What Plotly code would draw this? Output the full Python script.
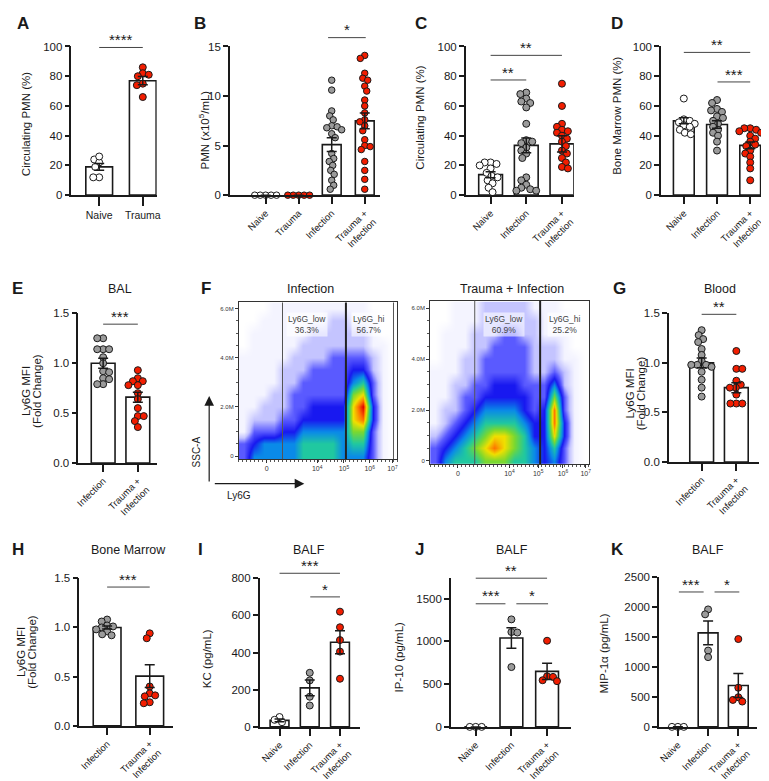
import plotly.graph_objects as go

W, H = 769, 781
def px(x): return x / W
def py(y): return 1 - y / H

WHITE, GRAY, RED = "#ffffff", "#9b9b9b", "#f21d00"
INK = "#1a1a1a"
FONT = "Liberation Sans"

# ---------------- data ----------------
A_labels = ["Naive", "Trauma"]
A_naive = [24, 22, 26, 19, 12, 12]
A_trauma = [86, 82, 81, 80, 75, 74, 66]
A_mean = [19, 77]
A_sem = [2.3, 2.8]

B_labels = ["Naive", "Trauma", "Infection", "Trauma +<br>Infection"]
B_naive = [0, 0, 0, 0, 0]
B_trauma = [0, 0, 0, 0, 0]
B_infection = [11.6, 10.6, 8.5, 8.0, 7.6, 7.0, 6.9, 6.8, 6.6, 6.2, 5.8, 4.2, 3.7, 3.4, 3.0, 2.5, 2.1, 1.5, 1.0, 0.6]
B_trauma_inf = [14.1, 13.8, 12.3, 11.8, 11.6, 11.0, 10.5, 9.6, 9.0, 8.3, 7.6, 7.4, 7.0, 6.5, 5.6, 5.0, 4.9, 4.6, 3.4, 2.5, 1.6, 0.6]
B_mean = [0, 0, 5.1, 7.5]
B_sem = [0, 0, 0.7, 0.8]

C_labels = ["Naive", "Infection", "Trauma +<br>Infection"]
C_naive = [22, 22, 21, 20, 18, 15, 13, 12, 10, 8, 5, 2]
C_infection = [69, 68, 65, 63, 62, 59, 48, 37, 36, 35, 32, 30, 28, 25, 12, 10, 7, 5, 4, 3, 3]
C_trauma_inf = [75, 60, 48, 46, 44, 43, 42, 40, 38, 36, 33, 30, 28, 25, 22, 19, 18]
C_mean = [13.8, 33.5, 34.5]
C_sem = [2.0, 5.0, 5.5]

D_labels = ["Naive", "Infection", "Trauma +<br>Infection"]
D_naive = [65, 51, 50, 49, 48, 47, 46, 44, 42, 41]
D_infection = [64, 62, 58, 57, 56, 53, 52, 50, 48, 46, 44, 42, 40, 36, 30]
D_trauma_inf = [45, 45, 44, 43, 42, 40, 38, 36, 34, 33, 30, 28, 26, 22, 18, 10]
D_mean = [50, 47.5, 33.5]
D_sem = [2.0, 2.5, 2.3]

E_labels = ["Infection", "Trauma +<br>Infection"]
E_infection = [1.25, 1.25, 1.14, 1.14, 1.14, 1.06, 1.0, 0.92, 0.91, 0.85, 0.84, 0.79, 0.79]
E_trauma_inf = [0.93, 0.85, 0.82, 0.82, 0.78, 0.78, 0.70, 0.64, 0.55, 0.47, 0.47, 0.42, 0.36]
E_mean = [1.0, 0.66]
E_sem = [0.05, 0.05]

G_labels = ["Infection", "Trauma +<br>Infection"]
G_infection = [1.33, 1.28, 1.24, 1.21, 1.14, 1.08, 1.02, 0.98, 0.98, 0.98, 0.96, 0.91, 0.83, 0.75, 0.66]
G_trauma_inf = [1.12, 0.94, 0.94, 0.82, 0.78, 0.75, 0.75, 0.68, 0.59, 0.59, 0.59]
G_mean = [1.0, 0.75]
G_sem = [0.05, 0.05]

H_labels = ["Infection", "Trauma +<br>Infection"]
H_infection = [1.08, 1.06, 1.02, 1.01, 1.0, 0.98, 0.96, 0.93, 0.92]
H_trauma_inf = [0.94, 0.89, 0.40, 0.33, 0.31, 0.30, 0.24, 0.23]
H_mean = [1.0, 0.505]
H_sem = [0.015, 0.115]

I_labels = ["Naive", "Infection", "Trauma +<br>Infection"]
I_naive = [25, 53, 38]
I_infection = [291, 250, 162, 115]
I_trauma_inf = [620, 536, 467, 405, 259]
I_mean = [35, 210, 455]
I_sem = [8, 42, 62]

J_labels = ["Naive", "Infection", "Trauma +<br>Infection"]
J_naive = [0, 0, 0]
J_infection = [1258, 1110, 1104, 700]
J_trauma_inf = [1008, 592, 585, 546, 535]
J_mean = [0, 1040, 650]
J_sem = [0, 120, 95]

K_labels = ["Naive", "Infection", "Trauma +<br>Infection"]
K_naive = [0, 0, 0]
K_infection = [1962, 1880, 1275, 1165]
K_trauma_inf = [1467, 654, 495, 450, 423]
K_mean = [0, 1570, 690]
K_sem = [0, 200, 200]

# flow cytometry density (0 = empty ... 10 = max), rows SSC-A 0..6.0M step 0.5M,
# columns Ly6G display channel centres 5..155 step 10
flow_x = [5, 15, 25, 35, 45, 55, 65, 75, 85, 95, 105, 115, 125, 135, 145, 155]
flow_y = [0.0, 0.5, 1.0, 1.5, 2.0, 2.5, 3.0, 3.5, 4.0, 4.5, 5.0, 5.5, 6.0]
flow_infection = [
    [3, 5, 5, 5, 5, 5, 6, 6, 6, 6, 5, 5, 5, 3, 1, 0],
    [3, 4, 5, 5, 5, 5, 6, 6, 6, 6, 5, 6, 6, 3, 1, 0],
    [1, 3, 3, 3, 4, 4, 5, 5, 5, 5, 5, 7, 7, 3, 1, 0],
    [1, 2, 2, 2, 3, 3, 4, 4, 4, 4, 4, 8, 9, 4, 1, 0],
    [1, 1, 2, 2, 2, 3, 3, 4, 4, 4, 4, 8, 10, 4, 1, 0],
    [1, 1, 1, 2, 2, 3, 3, 3, 3, 3, 3, 7, 8, 3, 1, 0],
    [1, 1, 1, 1, 2, 2, 3, 3, 3, 3, 3, 5, 6, 3, 1, 0],
    [1, 1, 1, 1, 2, 2, 2, 3, 3, 3, 3, 4, 4, 2, 1, 0],
    [1, 1, 1, 1, 1, 2, 2, 2, 2, 3, 3, 3, 3, 2, 1, 0],
    [0, 1, 1, 1, 1, 1, 2, 2, 2, 2, 2, 2, 2, 1, 1, 0],
    [0, 1, 1, 1, 1, 1, 1, 2, 2, 2, 2, 2, 2, 1, 0, 0],
    [0, 0, 1, 1, 1, 1, 1, 1, 1, 2, 2, 1, 1, 1, 0, 0],
    [0, 0, 0, 1, 1, 1, 1, 1, 1, 1, 1, 1, 1, 0, 0, 0],
]
flow_trauma_inf = [
    [3, 5, 6, 6, 6, 7, 7, 7, 6, 6, 5, 4, 5, 3, 1, 0],
    [3, 4, 5, 6, 7, 8, 9, 8, 7, 6, 5, 4, 6, 3, 1, 0],
    [2, 3, 4, 5, 6, 7, 8, 8, 7, 6, 4, 4, 8, 4, 1, 0],
    [1, 2, 3, 4, 5, 6, 6, 6, 6, 5, 4, 4, 9, 4, 1, 0],
    [1, 2, 2, 3, 4, 5, 5, 5, 5, 4, 3, 4, 9, 3, 1, 0],
    [1, 1, 2, 3, 3, 4, 4, 4, 4, 4, 3, 3, 7, 3, 1, 0],
    [1, 1, 2, 2, 3, 3, 4, 4, 4, 3, 3, 3, 5, 2, 1, 0],
    [1, 1, 1, 2, 2, 3, 3, 3, 3, 3, 2, 2, 3, 2, 1, 0],
    [0, 1, 1, 2, 2, 3, 3, 3, 3, 3, 2, 2, 2, 1, 1, 0],
    [0, 1, 1, 1, 2, 2, 3, 3, 3, 3, 2, 2, 2, 1, 0, 0],
    [0, 1, 1, 1, 2, 2, 2, 3, 3, 2, 2, 1, 1, 1, 0, 0],
    [0, 0, 1, 1, 1, 2, 2, 2, 2, 2, 2, 1, 1, 1, 0, 0],
    [0, 0, 1, 1, 1, 2, 2, 2, 2, 2, 1, 1, 1, 0, 0, 0],
]
flow_xtick_text = ["0", "10<sup>4</sup>", "10<sup>5</sup>", "10<sup>6</sup>", "10<sup>7</sup>"]
flow_inf_xticks = [28, 79, 106, 132, 155]
flow_ti_xticks = [28, 80, 109, 134, 157]
flow_ytick_vals = [0, 2, 4, 6]
flow_ytick_text = ["0", "2.0M", "4.0M", "6.0M"]
flow_inf_gates = [44, 108, 156]
flow_ti_gates = [45, 111]
flow_inf_pct = ["36.3%", "56.7%"]
flow_ti_pct = ["60.9%", "25.2%"]

# ---------------- panel geometry ----------------
panels = [
    dict(groups=[A_naive, A_trauma], fills=[WHITE, RED], mean=A_mean, sem=A_sem, labels=A_labels,
         x0=61, x1=147, top=33, bot=184, c0=89, c1=133, ymax=100, dtick=20, bw=27, angle=0, ms=7, fmt=""),
    dict(groups=[B_naive, B_trauma, B_infection, B_trauma_inf], fills=[WHITE, RED, GRAY, RED], mean=B_mean, sem=B_sem,
         labels=B_labels, x0=221, x1=372, top=33, bot=184, c0=257, c1=357, ymax=15, dtick=5, bw=19, angle=-45, ms=6.5, fmt=""),
    dict(groups=[C_naive, C_infection, C_trauma_inf], fills=[WHITE, GRAY, RED], mean=C_mean, sem=C_sem, labels=C_labels,
         x0=459, x1=568, top=33, bot=184, c0=484, c1=556, ymax=100, dtick=20, bw=24, angle=-45, ms=7, fmt=""),
    dict(groups=[D_naive, D_infection, D_trauma_inf], fills=[WHITE, GRAY, RED], mean=D_mean, sem=D_sem, labels=D_labels,
         x0=656, x1=758, top=33, bot=184, c0=679, c1=746, ymax=100, dtick=20, bw=21, angle=-45, ms=7, fmt=""),
    dict(groups=[E_infection, E_trauma_inf], fills=[GRAY, RED], mean=E_mean, sem=E_sem, labels=E_labels,
         x0=68, x1=147, top=304, bot=456, c0=93, c1=128, ymax=1.5, dtick=0.5, bw=24, angle=-45, ms=7, fmt=".1f"),
    dict(groups=[G_infection, G_trauma_inf], fills=[GRAY, RED], mean=G_mean, sem=G_sem, labels=G_labels,
         x0=664, x1=755, top=304, bot=455, c0=697, c1=732, ymax=1.5, dtick=0.5, bw=24, angle=-45, ms=7, fmt=".1f"),
    dict(groups=[H_infection, H_trauma_inf], fills=[GRAY, RED], mean=H_mean, sem=H_sem, labels=H_labels,
         x0=69, x1=163, top=573, bot=723, c0=97, c1=140, ymax=1.5, dtick=0.5, bw=28, angle=-45, ms=7, fmt=".1f"),
    dict(groups=[I_naive, I_infection, I_trauma_inf], fills=[WHITE, GRAY, RED], mean=I_mean, sem=I_sem, labels=I_labels,
         x0=251, x1=352, top=573, bot=724, c0=271, c1=332, ymax=800, dtick=200, bw=19, angle=-45, ms=7, fmt=""),
    dict(groups=[J_naive, J_infection, J_trauma_inf], fills=[WHITE, GRAY, RED], mean=J_mean, sem=J_sem, labels=J_labels,
         x0=444, x1=565, top=573, bot=724, c0=469, c1=541, ymax=1740, dtick=500, bw=23, angle=-45, ms=7, fmt=""),
    dict(groups=[K_naive, K_infection, K_trauma_inf], fills=[WHITE, GRAY, RED], mean=K_mean, sem=K_sem, labels=K_labels,
         x0=654, x1=753, top=572, bot=724, c0=673, c1=734, ymax=2500, dtick=500, bw=20, angle=-45, ms=7, fmt=""),
]


def swarm(vals, ppu, diam):
    """Deterministic beeswarm offsets (pixels) from the values."""
    placed, offs = [], [0.0] * len(vals)
    order = sorted(range(len(vals)), key=lambda k: -vals[k])
    for n, idx in enumerate(order):
        yv = vals[idx] * ppu
        chosen = None
        step = 0
        while chosen is None:
            signs = [0] if step == 0 else ([1, -1] if n % 2 == 0 else [-1, 1])
            for s in signs:
                o = s * step * 0.5
                if all((o - a) ** 2 + (yv - b) ** 2 >= diam ** 2 for a, b in placed):
                    chosen = o
                    break
            step += 1
        placed.append((chosen, yv))
        offs[idx] = chosen
    return offs


fig = go.Figure()
layout = dict(width=W, height=H, margin=dict(l=0, r=0, t=0, b=0), paper_bgcolor="white",
              plot_bgcolor="rgba(0,0,0,0)", showlegend=False, font=dict(family=FONT, color=INK, size=10))

for k, p in enumerate(panels):
    i = k + 1
    xa, ya = f"x{i}", f"y{i}"
    n = len(p["groups"])
    d = (p["c1"] - p["c0"]) / (n - 1)
    rng = [-(p["c0"] - p["x0"]) / d, (n - 1) + (p["x1"] - p["c1"]) / d]
    ppu = (p["bot"] - p["top"]) / p["ymax"]
    cats = list(range(n))
    fig.add_trace(go.Bar(x=cats, y=p["mean"], width=p["bw"] / d, xaxis=xa, yaxis=ya,
                         marker=dict(color="white", line=dict(color=INK, width=1.6)), hoverinfo="skip"))
    for g, (vals, fill) in enumerate(zip(p["groups"], p["fills"])):
        offs = swarm(vals, ppu, p["ms"] * 0.82)
        fig.add_trace(go.Scatter(x=[g + o / d for o in offs], y=vals, mode="markers", xaxis=xa, yaxis=ya,
                                 cliponaxis=False,
                                 marker=dict(size=p["ms"], color=fill, line=dict(color=INK, width=1))))
    fig.add_trace(go.Scatter(x=cats, y=p["mean"], mode="markers", xaxis=xa, yaxis=ya, cliponaxis=False,
                             marker=dict(size=1, color="rgba(0,0,0,0)"),
                             error_y=dict(type="data", array=p["sem"], color=INK, thickness=1.5, width=5)))
    sfx = "" if i == 1 else str(i)
    rotated = p["angle"] != 0
    layout["xaxis" + sfx] = dict(domain=[px(p["x0"]), px(p["x1"])], range=rng, anchor=ya,
                                 showline=True, linecolor=INK, linewidth=1.6, ticks="outside",
                                 ticklen=7 if rotated else 9,
                                 tickwidth=1.5, tickcolor=INK, tickvals=cats, ticktext=p["labels"],
                                 tickangle=p["angle"], tickfont=dict(size=9.5 if rotated else 10.5),
                                 showgrid=False, zeroline=False)
    layout["yaxis" + sfx] = dict(domain=[py(p["bot"]), py(p["top"])], range=[0, p["ymax"]], anchor=xa,
                                 showline=True, linecolor=INK, linewidth=1.6, ticks="outside", ticklen=5,
                                 tickwidth=1.5, tickcolor=INK, dtick=p["dtick"], tick0=0, tickformat=p["fmt"],
                                 tickfont=dict(size=11.5), showgrid=False, zeroline=False)

# ---------------- flow cytometry plots ----------------
flow_cs = [[0.0, "#ffffff"], [0.1, "#f4f4ff"], [0.2, "#c4c4ff"], [0.3, "#5a5aff"], [0.4, "#1818f0"],
           [0.5, "#0a8ae8"], [0.6, "#20c8a0"], [0.7, "#7ad830"], [0.8, "#f0e000"],
           [0.9, "#ff7000"], [1.0, "#e00000"]]
flows = [
    dict(z=flow_infection, xt=flow_inf_xticks, gates=flow_inf_gates, pct=flow_inf_pct,
         x0=230, x1=390, top=293, bot=452, yr=[-0.12, 6.24], lab_x=[69, 131]),
    dict(z=flow_trauma_inf, xt=flow_ti_xticks, gates=flow_ti_gates, pct=flow_ti_pct,
         x0=423, x1=583, top=291, bot=457, yr=[-0.12, 6.3], lab_x=[75, 136]),
]
shapes, annotations = [], []
for k, f in enumerate(flows):
    i = 11 + k
    xa, ya = f"x{i}", f"y{i}"
    fig.add_trace(go.Heatmap(x=flow_x, y=flow_y, z=f["z"], zmin=0, zmax=10, zsmooth="best",
                             colorscale=flow_cs, showscale=False, xaxis=xa, yaxis=ya, hoverinfo="skip"))
    layout[f"xaxis{i}"] = dict(domain=[px(f["x0"]), px(f["x1"])], range=[0, 160], anchor=ya, showline=True,
                               mirror=True, linecolor="#333", linewidth=1, ticks="outside", ticklen=3,
                               tickcolor="#333", tickvals=f["xt"], ticktext=flow_xtick_text,
                               tickfont=dict(size=7, color="#333"), showgrid=False, zeroline=False,
                               minor=dict(ticks="outside", ticklen=2, tickcolor="#555", dtick=4))
    layout[f"yaxis{i}"] = dict(domain=[py(f["bot"]), py(f["top"])], range=f["yr"], anchor=xa, showline=True,
                               mirror=True, linecolor="#333", linewidth=1, ticks="outside", ticklen=3,
                               tickcolor="#333", tickvals=flow_ytick_vals, ticktext=flow_ytick_text,
                               tickfont=dict(size=6, color="#333"), showgrid=False, zeroline=False,
                               minor=dict(ticks="outside", ticklen=2, tickcolor="#555", dtick=0.5))
    for gi, gx in enumerate(f["gates"]):
        shapes.append(dict(type="line", xref=xa, yref=f"{ya} domain", x0=gx, x1=gx, y0=0, y1=1,
                           line=dict(color="#222" if gi == 1 else "#555", width=2 if gi == 1 else 1)))
    for lx, name, pct in zip(f["lab_x"], ["Ly6G_low", "Ly6G_hi"], f["pct"]):
        annotations.append(dict(xref=xa, yref=ya, x=lx, y=5.35, text=f"{name}<br>{pct}", showarrow=False,
                                xanchor="center", yanchor="middle",
                                font=dict(size=8.5, color="#444"), bgcolor="rgba(255,255,255,0.6)"))

# ---------------- text ----------------
def ann(x, y, text, size=10.5, angle=0, bold=False, **kw):
    annotations.append(dict(xref="paper", yref="paper", x=px(x), y=py(y), text=f"<b>{text}</b>" if bold else text,
                            showarrow=False, textangle=angle, xanchor="center", yanchor="middle",
                            font=dict(size=size, color=INK, family=FONT), **kw))

for lx, ly, t in [(12, 10, "A"), (191, 10, "B"), (414, 10, "C"), (612, 10, "D"), (7, 279, "E"), (197, 279, "F"),
                  (614, 279, "G"), (7, 544, "H"), (191, 544, "I"), (412, 544, "J"), (612, 544, "K")]:
    ann(lx, ly, t, size=17, bold=True)

for tx, ty, t in [(110, 279, "BAL"), (302, 279, "Infection"), (506, 279, "Trauma + Infection"), (716, 279, "Blood"),
                  (119, 544, "Bone Marrow"), (301, 544, "BALF"), (506, 544, "BALF"), (703, 544, "BALF")]:
    ann(tx, ty, t, size=12.5)

for tx, ty, t in [(15, 112, "Circulating PMN (%)"), (195, 118, "PMN (x10<sup>5</sup>/mL)"),
                  (413, 105, "Circulating PMN (%)"), (612, 103, "Bone Marrow PMN (%)"),
                  (15, 383, "Ly6G MFI"), (26, 383, "(Fold Change)"),
                  (625, 385, "Ly6G MFI"), (636, 385, "(Fold Change)"),
                  (10, 648, "Ly6G MFI"), (21, 648, "(Fold Change)"),
                  (198, 655, "KC (pg/mL)"), (392, 653, "IP-10 (pg/mL)"), (598, 650, "MIP-1α (pg/mL)")]:
    ann(tx, ty, t, size=11.5, angle=-90)

# significance bars: (x start, x end, line y, label)
sig = [(89, 133, 34, "****"), (320, 358, 24, "*"), (484, 556, 42, "**"), (484, 520, 67, "**"),
       (679, 746, 39, "**"), (713, 746, 69, "***"), (93, 128, 315, "***"), (697, 732, 305, "**"),
       (97, 140, 582, "***"), (271, 332, 568, "***"), (302, 332, 592, "*"), (469, 541, 573, "**"),
       (469, 499, 599, "***"), (510, 542, 599, "*"), (674, 699, 587, "***"), (710, 735, 587, "*")]
for xs, xe, ly, t in sig:
    shapes.append(dict(type="line", xref="paper", yref="paper", x0=px(xs), x1=px(xe), y0=py(ly), y1=py(ly),
                       line=dict(color="#444", width=1)))
    ann((xs + xe) / 2, ly - 8, t, size=15)

# axis arrows for flow plots
annotations.append(dict(xref="paper", yref="paper", x=px(200), y=py(388), ax=0, ay=87, text="",
                        showarrow=True, arrowhead=2, arrowsize=1.6, arrowwidth=1.2, arrowcolor=INK))
annotations.append(dict(xref="paper", yref="paper", x=px(296), y=py(477), ax=-91, ay=0, text="",
                        showarrow=True, arrowhead=2, arrowsize=1.6, arrowwidth=1.2, arrowcolor=INK))
ann(187, 445, "SSC-A", size=10, angle=-90)
ann(230, 489, "Ly6G", size=10)

layout["shapes"] = shapes
layout["annotations"] = annotations
fig.update_layout(**layout)
fig.write_html("out.html")
